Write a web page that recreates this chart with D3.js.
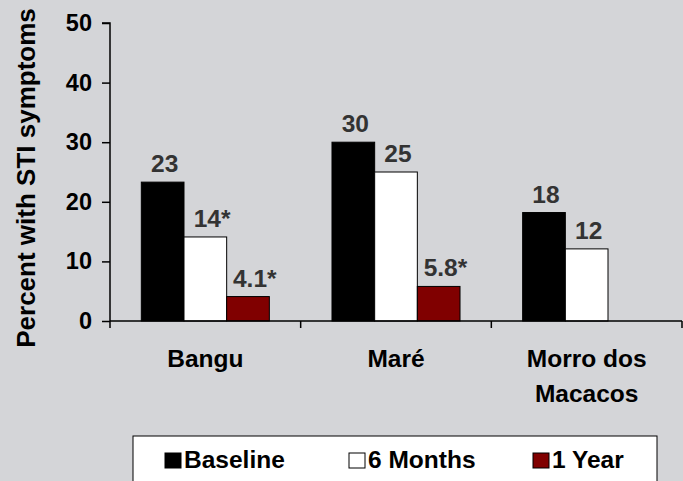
<!DOCTYPE html>
<html>
<head>
<meta charset="utf-8">
<script src="https://cdn.jsdelivr.net/npm/d3@7"></script>
<style>
  html, body { margin: 0; padding: 0; background: #d4d5d8; }
  svg { display: block; }
  text { font-family: "Liberation Sans", Arial, sans-serif; font-weight: bold; }
</style>
</head>
<body>
<svg id="chart" width="683" height="481"></svg>
<script>
const categories = ["Bangu", "Maré", "Morro dos Macacos"];
const seriesNames = ["Baseline", "6 Months", "1 Year"];
const baselineValues = [23.3, 30.0, 18.2];
const sixMonthValues = [14.1, 25.0, 12.1];
const oneYearValues = [4.1, 5.8, null];
const baselineLabels = ["23", "30", "18"];
const sixMonthLabels = ["14*", "25", "12"];
const oneYearLabels = ["4.1*", "5.8*", ""];
const yTicks = [0, 10, 20, 30, 40, 50];
const colors = ["#000000", "#ffffff", "#800000"];

const values = [baselineValues, sixMonthValues, oneYearValues];
const labels = [baselineLabels, sixMonthLabels, oneYearLabels];

const svg = d3.select("#chart");
svg.append("rect").attr("width", 683).attr("height", 481).attr("fill", "#d4d5d8");

const pLeft = 110, pRight = 682, pTop = 23, pBottom = 321;
const y = d3.scaleLinear().domain([0, 50]).range([pBottom, pTop]);
const x0 = d3.scaleBand().domain(categories).range([pLeft, pRight]).padding(0);
const x1 = d3.scaleBand().domain(seriesNames).range([0, x0.bandwidth()]).paddingInner(0).paddingOuter(0.734);

// bars
const data = [];
categories.forEach((c, i) => {
  seriesNames.forEach((s, j) => {
    if (values[j][i] != null) data.push({c, s, j, v: values[j][i], label: labels[j][i]});
  });
});

svg.append("g").selectAll("rect").data(data).join("rect")
  .attr("x", d => x0(d.c) + x1(d.s))
  .attr("y", d => y(d.v))
  .attr("width", x1.bandwidth())
  .attr("height", d => y(0) - y(d.v))
  .attr("fill", d => colors[d.j])
  .attr("stroke", "#000")
  .attr("stroke-width", 1);

// value labels
const lab = svg.append("g").selectAll("text").data(data).join("text")
  .attr("x", d => x0(d.c) + x1(d.s) + x1.bandwidth() / 2 + 2)
  .attr("y", d => y(d.v) - 10)
  .attr("text-anchor", "middle")
  .attr("font-size", 24.5)
  .attr("fill", "#333333");
lab.append("tspan").text(d => d.label.replace("*", ""));
lab.filter(d => d.label.includes("*")).each(function() {
  const t = d3.select(this);
  const w = this.getComputedTextLength();
  t.append("tspan").text("*");
  const w2 = this.getComputedTextLength();
  t.attr("x", +t.attr("x") + (w2 - w) / 2);
});

// y axis
const yAxis = d3.axisLeft(y).tickValues(yTicks).tickSize(8).tickPadding(10).tickFormat(d3.format("d"));
const gy = svg.append("g").attr("transform", `translate(${pLeft},0)`).call(yAxis);
gy.select(".domain").attr("stroke", "#000").attr("stroke-width", 1.5).attr("d", `M-8,${pTop}H0V${pBottom + 7}`);
gy.selectAll(".tick line").attr("stroke", "#000").attr("stroke-width", 1.5);
gy.selectAll(".tick text").attr("font-size", 23.5).attr("fill", "#000")
  .style("font-family", '"Liberation Sans", Arial, sans-serif').style("font-weight", "bold");

// x axis
const gx = svg.append("g").attr("transform", `translate(0,${pBottom})`);
gx.append("line").attr("x1", pLeft).attr("x2", pRight).attr("stroke", "#000").attr("stroke-width", 1.5);
const boundaries = categories.map(c => x0(c) + x0.bandwidth());
gx.selectAll("line.tk").data(boundaries).join("line").attr("class", "tk")
  .attr("x1", d => d).attr("x2", d => d).attr("y1", 0).attr("y2", 7)
  .attr("stroke", "#000").attr("stroke-width", 1.5);

// category labels
const catText = svg.append("g").selectAll("text").data(categories).join("text")
  .attr("x", c => x0(c) + x0.bandwidth() / 2)
  .attr("y", 367)
  .attr("text-anchor", "middle")
  .attr("font-size", 24.5)
  .attr("fill", "#000");
catText.each(function(c) {
  const t = d3.select(this);
  const parts = c === "Morro dos Macacos" ? ["Morro dos", "Macacos"] : [c];
  parts.forEach((p, i) => t.append("tspan").attr("x", t.attr("x")).attr("dy", i === 0 ? 0 : 35).text(p));
});

// y title
svg.append("text")
  .attr("transform", "translate(35,178) rotate(-90)")
  .attr("text-anchor", "middle")
  .attr("font-size", 26)
  .attr("fill", "#000")
  .text("Percent with STI symptoms");

// legend
const lg = svg.append("g");
lg.append("rect").attr("x", 133).attr("y", 436).attr("width", 524).attr("height", 60)
  .attr("fill", "#fff").attr("stroke", "#000").attr("stroke-width", 1);
const legX = [165, 349, 533];
const items = lg.selectAll("g.item").data(seriesNames).join("g").attr("class", "item")
  .attr("transform", (d, i) => `translate(${legX[i]},0)`);
items.append("rect").attr("x", 0).attr("y", 453).attr("width", 16).attr("height", 15)
  .attr("fill", (d, i) => colors[i]).attr("stroke", "#000").attr("stroke-width", 1);
items.append("text").attr("x", 19).attr("y", 468).attr("font-size", 24.5).attr("fill", "#000").text(d => d);
</script>
</body>
</html>
